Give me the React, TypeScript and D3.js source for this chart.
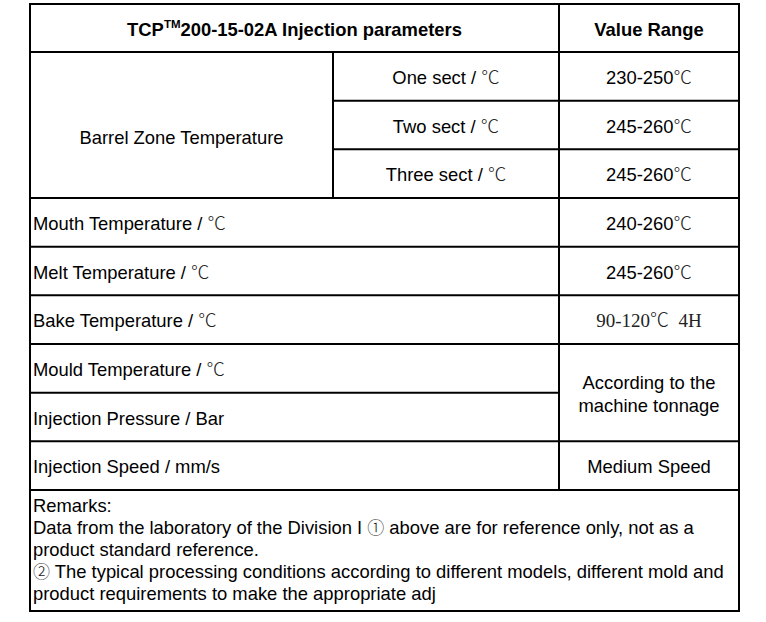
import { useRef, useEffect } from 'react'
import * as d3 from 'd3'

const titleParts = ['TCP', 'TM', '200-15-02A Injection parameters']
const valueTitle = 'Value Range'
const barrelLabel = 'Barrel Zone Temperature'
const barrelSections = ['One sect / ℃', 'Two sect / ℃', 'Three sect / ℃']
const barrelValues = ['230-250℃', '245-260℃', '245-260℃']
const paramLabels = [
  'Mouth Temperature / ℃',
  'Melt Temperature / ℃',
  'Bake Temperature / ℃',
  'Mould Temperature / ℃',
  'Injection Pressure / Bar',
  'Injection Speed / mm/s',
]
// value text, and how many rows it spans
const paramValues = ['240-260℃', '245-260℃', '90-120℃\u00a0\u00a04H', 'According to the\nmachine tonnage', 'Medium Speed']
const paramSpans = [1, 1, 1, 2, 1]
const remarks = [
  'Remarks:',
  'Data from the laboratory of the Division I ① above are for reference only, not as a',
  'product standard reference.',
  '② The typical processing conditions according to different models, different mold and',
  'product requirements to make the appropriate adj',
]

const W = 766
const H = 622
const SANS = '"Liberation Sans", Arial, sans-serif'
const SERIF = '"Liberation Serif", "Times New Roman", serif'
const CJK = '"Noto Sans CJK SC", sans-serif'
const FS = 18.4

const App = () => {
  const ref = useRef(null)

  useEffect(() => {
    const svg = d3.select(ref.current)
    svg.selectAll('*').remove()

    const x = d3.scaleOrdinal<string, number>()
      .domain(['left', 'sub', 'value', 'right'])
      .range([30, 333, 559, 739])
    const top = 4
    const headBottom = 52
    const bodyBottom = 490
    const bottom = 611
    const nRows = barrelSections.length + paramLabels.length
    const y = d3.scaleBand<number>().domain(d3.range(nRows)).range([headBottom, bodyBottom])
    const rh = y.bandwidth()

    const lines = svg.append('g').attr('stroke', '#000').attr('stroke-width', 2)
    const line = (x1, y1, x2, y2) =>
      lines.append('line').attr('x1', x1).attr('y1', y1).attr('x2', x2).attr('y2', y2)

    // outer frame
    lines.append('rect')
      .attr('x', x('left')).attr('y', top)
      .attr('width', x('right') - x('left')).attr('height', bottom - top)
      .attr('fill', 'none')
    line(x('left'), headBottom, x('right'), headBottom)
    line(x('left'), bodyBottom, x('right'), bodyBottom)
    line(x('value'), top, x('value'), bodyBottom)
    line(x('sub'), headBottom, x('sub'), y(barrelSections.length))

    // horizontal lines between rows
    d3.range(1, nRows).forEach((i) => {
      const yy = y(i)
      if (i < barrelSections.length) {
        line(x('sub'), yy, x('right'), yy)
      } else {
        const pi = i - barrelSections.length
        // skip value column where a value spans rows
        let acc = 0
        let inside = false
        paramSpans.forEach((s) => {
          if (pi > acc && pi < acc + s) inside = true
          acc += s
        })
        line(x('left'), yy, inside ? x('value') : x('right'), yy)
      }
    })

    const txt = svg.append('g').attr('font-family', SANS).attr('font-size', FS).attr('fill', '#000')

    const addText = (g, str, px, py, anchor, family = SANS, symSize = null) => {
      const t = g.append('text').attr('x', px).attr('y', py)
        .attr('text-anchor', anchor).attr('font-family', family)
      const parts = str.split(/([℃①②])/)
      parts.filter((p) => p !== '').forEach((p) => {
        const sp = t.append('tspan').text(p)
        if (/[℃①②]/.test(p)) {
          sp.attr('font-family', CJK).attr('font-weight', 300).attr('fill', '#222')
          if (symSize) sp.attr('font-size', symSize)
        }
      })
      return t
    }

    const base = (cy) => cy + 7.5

    // header
    const head = txt.append('text')
      .attr('x', (x('left') + x('value')) / 2).attr('y', base((top + headBottom) / 2))
      .attr('text-anchor', 'middle').attr('font-weight', 'bold')
    head.append('tspan').text(titleParts[0])
    head.append('tspan').text(titleParts[1]).attr('font-size', 11.5).attr('dy', -7.5)
    head.append('tspan').text(titleParts[2]).attr('dy', 7.5)
    txt.append('text')
      .attr('x', (x('value') + x('right')) / 2).attr('y', base((top + headBottom) / 2))
      .attr('text-anchor', 'middle').attr('font-weight', 'bold').text(valueTitle)

    // barrel block (label sits a bit below the middle of its cell)
    addText(txt, barrelLabel, (x('left') + x('sub')) / 2,
      base((headBottom + y(barrelSections.length)) / 2) + 11, 'middle')
    barrelSections.forEach((s, i) => {
      addText(txt, s, (x('sub') + x('value')) / 2, base(y(i) + rh / 2), 'middle')
      addText(txt, barrelValues[i], (x('value') + x('right')) / 2, base(y(i) + rh / 2), 'middle')
    })

    // parameter rows
    paramLabels.forEach((s, i) => {
      addText(txt, s, x('left') + 3, base(y(i + barrelSections.length) + rh / 2), 'start')
    })
    let r = barrelSections.length
    paramValues.forEach((v, i) => {
      const cy = y(r) + (rh * paramSpans[i]) / 2
      const cx = (x('value') + x('right')) / 2
      const vl = v.split('\n')
      vl.forEach((l, k) => {
        const off = (k - (vl.length - 1) / 2) * 23
        const serif = l.startsWith('90')
        const t = addText(txt, l, cx, base(cy + off), 'middle', serif ? SERIF : SANS)
        if (serif) t.attr('font-size', 19).attr('fill', '#222')
      })
      r += paramSpans[i]
    })

    // remarks
    remarks.forEach((l, i) => {
      addText(txt, l, x('left') + 3, 512 + i * 22, 'start', SANS, 17)
    })
  })

  return (
    <svg ref={ref} width={W} height={H}
      style={{ position: 'absolute', left: 0, top: 0, background: '#fff' }} />
  )
}

export default App
